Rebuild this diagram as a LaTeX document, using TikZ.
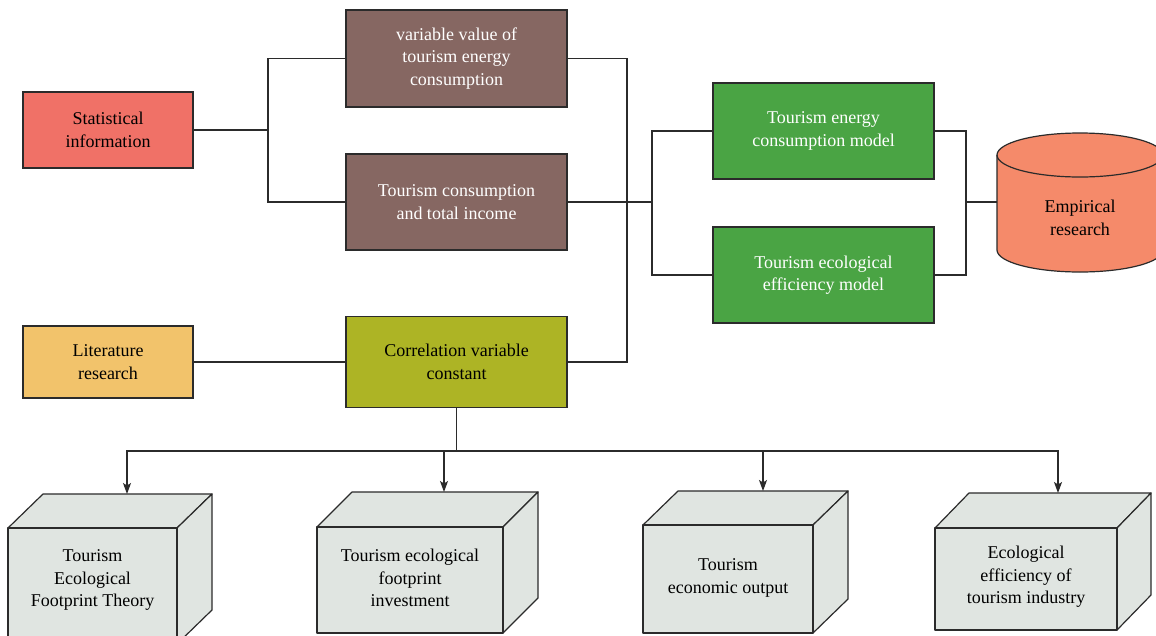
\documentclass[tikz,border=0pt]{standalone}
\usepackage{fontspec}
\setmainfont{Liberation Serif}
\usetikzlibrary{arrows.meta}
\definecolor{statred}{HTML}{F07167}
\definecolor{brownbox}{HTML}{866762}
\definecolor{litorange}{HTML}{F2C36B}
\definecolor{olivebox}{HTML}{ADB425}
\definecolor{greenbox}{HTML}{4AA444}
\definecolor{cylfill}{HTML}{F58A6A}
\definecolor{cubefill}{HTML}{E0E5E1}
\definecolor{linecol}{HTML}{2B2B2B}
\begin{document}
\begin{tikzpicture}[x=1pt,y=-1pt,
  txt/.style={font=\fontsize{18}{22.5}\selectfont, align=center, inner sep=0pt},
  box/.style={txt, draw=linecol, line width=1.2pt, minimum width=221pt, minimum height=96pt},
  conn/.style={draw=linecol, line width=1.1pt},
  arr/.style={conn, -{Stealth[length=11pt,width=8pt,inset=2.5pt]}},
  cubeface/.style={fill=cubefill, draw=linecol, line width=1.2pt, line join=round},
  cylline/.style={linecol, line width=1.2pt}]
\useasboundingbox (0,0) rectangle (1156,635);
\clip (0,0) rectangle (1156,635);
\fill[white] (0,0) rectangle (1156,635);

% left boxes
\node[box, fill=statred, minimum width=170pt, minimum height=76pt, text=black] (stat) at (108,130) {Statistical\\information};
\node[box, fill=litorange, minimum width=170pt, minimum height=72pt, text=black] (lit) at (108,362) {Literature\\research};

% middle boxes
\node[box, fill=brownbox, minimum height=97pt, text=white] (var) at (456.5,58.5) {variable value of\\tourism energy\\consumption};
\node[box, fill=brownbox, text=white] (cons) at (456.5,202) {Tourism consumption\\and total income};
\node[box, fill=olivebox, minimum height=91pt, text=black] (corr) at (456.5,362) {Correlation variable\\constant};

% green boxes
\node[box, fill=greenbox, text=white] (energy) at (823.5,131) {Tourism energy\\consumption model};
\node[box, fill=greenbox, text=white] (eco) at (823.5,275) {Tourism ecological\\efficiency model};

% cylinder
\node[inner sep=0pt, minimum width=166pt, minimum height=118pt] (emp) at (1080,202) {};
\fill[cylfill] (997,155) -- (997,250) arc[start angle=180, end angle=360, x radius=83pt, y radius=22pt] -- (1163,155) arc[start angle=0, end angle=180, x radius=83pt, y radius=22pt] -- cycle;
\draw[cylline] (997,155) -- (997,250) arc[start angle=180, end angle=360, x radius=83pt, y radius=22pt] -- (1163,155) arc[start angle=0, end angle=180, x radius=83pt, y radius=22pt];
\draw[cylline] (997,155) arc[start angle=180, end angle=360, x radius=83pt, y radius=22pt];
\node[txt, text=black] (emptext) at (1080,218) {Empirical\\research};

% junctions
\coordinate (j1) at (268,130);
\coordinate (j2) at (627,202);
\coordinate (j3) at (652,202);
\coordinate (j4) at (966,202);
\coordinate (j5) at (456.5,451);

\draw[conn] (stat.east) -- (j1);
\draw[conn] (var.west) -| (j1);
\draw[conn] (cons.west) -| (j1);
\draw[conn] (var.east) -| (j2) |- (corr.east);
\draw[conn] (cons.east) -- (j3);
\draw[conn] (energy.west) -| (j3);
\draw[conn] (eco.west) -| (j3);
\draw[conn] (energy.east) -| (j4);
\draw[conn] (eco.east) -| (j4);
\draw[conn] (j4) -- (emp.west);
\draw[conn] (lit.east) -- (corr.west);
\draw[conn] (corr.south) -- (j5);

% cubes
% cube 1
\draw[cubeface] (8,528) -- (43,494) -- (212,494) -- (177,528) -- cycle;
\draw[cubeface] (177,528) -- (212,494) -- (212,610) -- (177,644) -- cycle;
\draw[cubeface] (8,528) rectangle (177,644);
\coordinate (c1top) at (127,494);
\node[txt, text=black] (c1) at (92.5,580) {Tourism\\Ecological\\Footprint Theory};
% cube 2
\draw[cubeface] (317,527) -- (352,492) -- (538,492) -- (503,527) -- cycle;
\draw[cubeface] (503,527) -- (538,492) -- (538,598) -- (503,633) -- cycle;
\draw[cubeface] (317,527) rectangle (503,633);
\coordinate (c2top) at (444,492);
\node[txt, text=black] (c2) at (410,578) {Tourism ecological\\footprint\\investment};
% cube 3
\draw[cubeface] (643,525) -- (678,491) -- (848,491) -- (813,525) -- cycle;
\draw[cubeface] (813,525) -- (848,491) -- (848,599) -- (813,633) -- cycle;
\draw[cubeface] (643,525) rectangle (813,633);
\coordinate (c3top) at (763,491);
\node[txt, text=black] (c3) at (728,578) {Tourism\\economic output};
% cube 4
\draw[cubeface] (935,528) -- (969,493) -- (1151,493) -- (1117,528) -- cycle;
\draw[cubeface] (1117,528) -- (1151,493) -- (1151,595) -- (1117,630) -- cycle;
\draw[cubeface] (935,528) rectangle (1117,630);
\coordinate (c4top) at (1058,493);
\node[txt, text=black] (c4) at (1026,577) {Ecological\\efficiency of\\tourism industry};

\draw[arr] (j5) -| (c1top);
\draw[arr] (j5) -| (c2top);
\draw[arr] (j5) -| (c3top);
\draw[arr] (j5) -| (c4top);
\end{tikzpicture}
\end{document}
